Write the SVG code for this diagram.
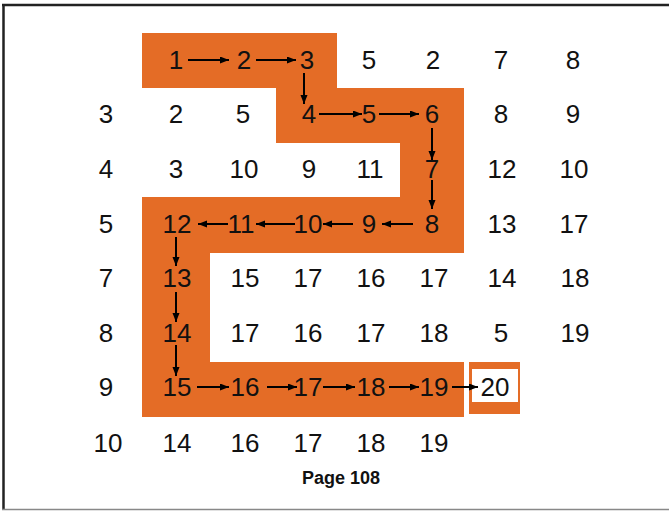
<svg xmlns="http://www.w3.org/2000/svg" width="669" height="511" viewBox="0 0 669 511">
<defs>
<style>
.n{font-family:"Liberation Sans",Arial,sans-serif;font-size:26px;fill:#111;text-anchor:middle}
.pg{font-family:"Liberation Sans",Arial,sans-serif;font-size:18px;font-weight:bold;fill:#111;text-anchor:middle}
.a{stroke:#000;stroke-width:2;fill:none;marker-end:url(#ah)}
.or{fill:#E46C26}
</style>
<marker id="ah" markerUnits="userSpaceOnUse" markerWidth="10" markerHeight="8" refX="9" refY="3.5" orient="auto">
<path d="M0,0 L9,3.5 L0,7 Z" fill="#000"/>
</marker>
</defs>
<rect width="669" height="511" fill="#fff"/>
<g id="frame">
<line x1="2" y1="5" x2="669" y2="5" stroke="#222" stroke-width="2.5"/>
<line x1="3.5" y1="4" x2="3.5" y2="510" stroke="#222" stroke-width="2.5"/>
<line x1="2" y1="509.5" x2="669" y2="509.5" stroke="#888" stroke-width="1.5"/>
</g>
<g id="path-band">
<polygon class="or" points="142,33 337,33 337,88 464,88 464,253 210,253 210,362 464,362 464,417 142,417 142,197 400,197 400,143 276,143 276,88 142,88"/>
<rect class="or" x="469" y="362" width="51" height="52"/>
<rect x="472" y="369" width="46" height="33" fill="#fff"/>
</g>
<g id="connectors">
<line class="a" x1="188" y1="60" x2="229" y2="60"/>
<line class="a" x1="256" y1="60" x2="296" y2="60"/>
<line class="a" x1="304" y1="73" x2="304" y2="104"/>
<line class="a" x1="319" y1="114" x2="362" y2="114"/>
<line class="a" x1="379" y1="114" x2="419" y2="114"/>
<line class="a" x1="432" y1="128" x2="432" y2="160"/>
<line class="a" x1="432" y1="180" x2="432" y2="209"/>
<line class="a" x1="413" y1="224" x2="382" y2="224"/>
<line class="a" x1="353" y1="224" x2="323" y2="224"/>
<line class="a" x1="295" y1="224" x2="256" y2="224"/>
<line class="a" x1="228" y1="224" x2="198" y2="224"/>
<line class="a" x1="176" y1="237" x2="176" y2="266"/>
<line class="a" x1="176" y1="292" x2="176" y2="322"/>
<line class="a" x1="176" y1="345" x2="176" y2="376"/>
<line class="a" x1="197" y1="387" x2="229" y2="387"/>
<line class="a" x1="267" y1="387" x2="297" y2="387"/>
<line class="a" x1="323" y1="387" x2="355" y2="387"/>
<line class="a" x1="389" y1="387" x2="419" y2="387"/>
<line class="a" x1="452" y1="387" x2="478" y2="387"/>
</g>
<g id="row0">
<g id="r0c1"><text class="n" x="176" y="69">1</text></g>
<g id="r0c2"><text class="n" x="244" y="69">2</text></g>
<g id="r0c3"><text class="n" x="307" y="69">3</text></g>
<g id="r0c4"><text class="n" x="369" y="69">5</text></g>
<g id="r0c5"><text class="n" x="433" y="69">2</text></g>
<g id="r0c6"><text class="n" x="501" y="69">7</text></g>
<g id="r0c7"><text class="n" x="573" y="69">8</text></g>
</g>
<g id="row1">
<g id="r1c0"><text class="n" x="106" y="123">3</text></g>
<g id="r1c1"><text class="n" x="176" y="123">2</text></g>
<g id="r1c2"><text class="n" x="243" y="123">5</text></g>
<g id="r1c3"><text class="n" x="309" y="123">4</text></g>
<g id="r1c4"><text class="n" x="369" y="123">5</text></g>
<g id="r1c5"><text class="n" x="432" y="123">6</text></g>
<g id="r1c6"><text class="n" x="501" y="123">8</text></g>
<g id="r1c7"><text class="n" x="573" y="123">9</text></g>
</g>
<g id="row2">
<g id="r2c0"><text class="n" x="106" y="178">4</text></g>
<g id="r2c1"><text class="n" x="176" y="178">3</text></g>
<g id="r2c2"><text class="n" x="244" y="178">10</text></g>
<g id="r2c3"><text class="n" x="309" y="178">9</text></g>
<g id="r2c4"><text class="n" x="370" y="178">11</text></g>
<g id="r2c5"><text class="n" x="432" y="178">7</text></g>
<g id="r2c6"><text class="n" x="502" y="178">12</text></g>
<g id="r2c7"><text class="n" x="574" y="178">10</text></g>
</g>
<g id="row3">
<g id="r3c0"><text class="n" x="106" y="233">5</text></g>
<g id="r3c1"><text class="n" x="177" y="233">12</text></g>
<g id="r3c2"><text class="n" x="241" y="233">11</text></g>
<g id="r3c3"><text class="n" x="308" y="233">10</text></g>
<g id="r3c4"><text class="n" x="369" y="233">9</text></g>
<g id="r3c5"><text class="n" x="432" y="233">8</text></g>
<g id="r3c6"><text class="n" x="502" y="233">13</text></g>
<g id="r3c7"><text class="n" x="574" y="233">17</text></g>
</g>
<g id="row4">
<g id="r4c0"><text class="n" x="106" y="287">7</text></g>
<g id="r4c1"><text class="n" x="177" y="287">13</text></g>
<g id="r4c2"><text class="n" x="245" y="287">15</text></g>
<g id="r4c3"><text class="n" x="308" y="287">17</text></g>
<g id="r4c4"><text class="n" x="371" y="287">16</text></g>
<g id="r4c5"><text class="n" x="434" y="287">17</text></g>
<g id="r4c6"><text class="n" x="502" y="287">14</text></g>
<g id="r4c7"><text class="n" x="575" y="287">18</text></g>
</g>
<g id="row5">
<g id="r5c0"><text class="n" x="106" y="342">8</text></g>
<g id="r5c1"><text class="n" x="177" y="342">14</text></g>
<g id="r5c2"><text class="n" x="245" y="342">17</text></g>
<g id="r5c3"><text class="n" x="308" y="342">16</text></g>
<g id="r5c4"><text class="n" x="371" y="342">17</text></g>
<g id="r5c5"><text class="n" x="434" y="342">18</text></g>
<g id="r5c6"><text class="n" x="501" y="342">5</text></g>
<g id="r5c7"><text class="n" x="575" y="342">19</text></g>
</g>
<g id="row6">
<g id="r6c0"><text class="n" x="106" y="396">9</text></g>
<g id="r6c1"><text class="n" x="177" y="396">15</text></g>
<g id="r6c2"><text class="n" x="245" y="396">16</text></g>
<g id="r6c3"><text class="n" x="308" y="396">17</text></g>
<g id="r6c4"><text class="n" x="371" y="396">18</text></g>
<g id="r6c5"><text class="n" x="434" y="396">19</text></g>
<g id="r6c6"><text class="n" x="495" y="396">20</text></g>
</g>
<g id="row7">
<g id="r7c0"><text class="n" x="108" y="452">10</text></g>
<g id="r7c1"><text class="n" x="177" y="452">14</text></g>
<g id="r7c2"><text class="n" x="245" y="452">16</text></g>
<g id="r7c3"><text class="n" x="308" y="452">17</text></g>
<g id="r7c4"><text class="n" x="371" y="452">18</text></g>
<g id="r7c5"><text class="n" x="434" y="452">19</text></g>
</g>
<g id="page"><text class="pg" x="341" y="484">Page 108</text></g>
</svg>
